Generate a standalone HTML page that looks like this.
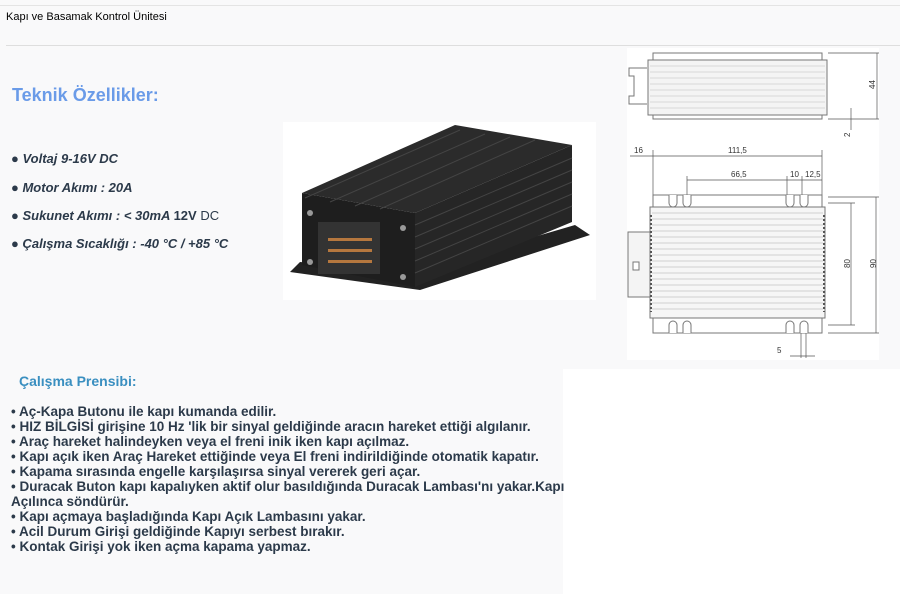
<!DOCTYPE html>
<html><head><meta charset="utf-8"><style>
body{margin:0;width:900px;height:594px;background:#f9f9fa;font-family:"Liberation Sans",Arial,sans-serif;position:relative;overflow:hidden}
.a{position:absolute;white-space:nowrap}
.spec{font-size:13px;color:#2c3a4a;font-style:italic;font-weight:bold}
.li{font-size:13.5px;font-weight:bold;color:#2c3a4a;line-height:15px}
</style></head><body>
<div class="a" style="left:0;top:5px;width:900px;height:1px;background:#e4e4e4"></div>
<div class="a" style="left:6px;top:11px;font-size:11px;color:#000">Kapı ve Basamak Kontrol Ünitesi</div>
<div class="a" style="left:6px;top:45px;width:894px;height:1px;background:#dedede"></div>
<div class="a" style="left:12px;top:85px;font-size:18px;font-weight:bold;color:#6a9be8">Teknik Özellikler:</div>
<div class="a spec" style="left:11px;top:151px">● Voltaj 9-16V DC</div>
<div class="a spec" style="left:11px;top:180px">● Motor Akımı : 20A</div>
<div class="a spec" style="left:11px;top:208px">● Sukunet Akımı : &lt; 30mA <span style="font-style:normal">12V</span> <span style="font-style:normal;font-weight:normal">DC</span></div>
<div class="a spec" style="left:11px;top:236px">● Çalışma Sıcaklığı : -40 °C / +85 °C</div>

<svg class="a" style="left:283px;top:122px" width="313" height="178" viewBox="283 122 313 178">
<rect x="283" y="122" width="313" height="178" fill="#fff"/>
<polygon points="290,272 420,290 590,235 575,225 415,272 300,262" fill="#222"/>
<polygon points="302,193 455,125 572,145 415,213" fill="#2b2b2b"/>
<polygon points="415,213 572,145 572,222 415,287" fill="#262626"/>
<polygon points="302,193 415,213 415,287 302,265" fill="#1e1e1e"/>
<g stroke="#444" stroke-width="1">
<line x1="305" y1="198" x2="460" y2="130"/><line x1="330" y1="202" x2="485" y2="134"/><line x1="355" y1="206" x2="510" y2="137"/><line x1="380" y1="209" x2="535" y2="140"/>
<line x1="415" y1="225" x2="572" y2="158"/><line x1="415" y1="237" x2="572" y2="170"/><line x1="415" y1="249" x2="572" y2="182"/><line x1="415" y1="261" x2="572" y2="194"/><line x1="415" y1="273" x2="572" y2="206"/>
</g>
<rect x="318" y="222" width="62" height="52" fill="#333"/>
<g fill="#b5773e"><rect x="328" y="238" width="44" height="3"/><rect x="328" y="249" width="44" height="3"/><rect x="328" y="260" width="44" height="3"/></g>
<circle cx="310" cy="213" r="3" fill="#999"/><circle cx="310" cy="262" r="3" fill="#999"/><circle cx="403" cy="228" r="3" fill="#999"/><circle cx="403" cy="277" r="3" fill="#999"/>
</svg>

<svg class="a" style="left:627px;top:48px" width="252" height="312" viewBox="627 48 252 312" font-family="Liberation Sans,Arial,sans-serif" font-size="8" fill="#333">
<rect x="627" y="48" width="252" height="312" fill="#fff"/>
<g stroke="#777" fill="none" stroke-width="1">
<rect x="653" y="53" width="169" height="66"/>
<rect x="648" y="60" width="179" height="55" fill="#f4f4f4"/>
<path d="M647 68 H629 V76 H634 V96 H629 V104 H647"/>
</g>
<g stroke="#bbb" stroke-width="0.6">
<line x1="650" y1="66" x2="825" y2="66"/><line x1="650" y1="72" x2="825" y2="72"/><line x1="650" y1="78" x2="825" y2="78"/><line x1="650" y1="84" x2="825" y2="84"/><line x1="650" y1="90" x2="825" y2="90"/><line x1="650" y1="96" x2="825" y2="96"/><line x1="650" y1="102" x2="825" y2="102"/><line x1="650" y1="108" x2="825" y2="108"/>
</g>
<g stroke="#555" stroke-width="0.7">
<line x1="877" y1="53" x2="877" y2="119"/><line x1="828" y1="53" x2="880" y2="53"/><line x1="828" y1="119" x2="880" y2="119"/>
<line x1="851" y1="108" x2="851" y2="130"/>
<line x1="630" y1="156" x2="822" y2="156"/><line x1="653" y1="150" x2="653" y2="195"/><line x1="822" y1="150" x2="822" y2="195"/>
<line x1="687" y1="180" x2="822" y2="180"/><line x1="687" y1="176" x2="687" y2="195"/><line x1="787" y1="176" x2="787" y2="195"/><line x1="802" y1="176" x2="802" y2="195"/>
<line x1="851" y1="203" x2="851" y2="325"/><line x1="828" y1="203" x2="855" y2="203"/><line x1="828" y1="325" x2="855" y2="325"/>
<line x1="876" y1="197" x2="876" y2="333"/><line x1="828" y1="197" x2="879" y2="197"/><line x1="828" y1="333" x2="879" y2="333"/>
<line x1="801" y1="333" x2="801" y2="358"/><line x1="806" y1="333" x2="806" y2="358"/><line x1="790" y1="356" x2="815" y2="356"/>
</g>
<rect x="653" y="195" width="169" height="138" fill="#fff" stroke="#777"/>
<rect x="650" y="207" width="175" height="111" fill="#f6f6f6" stroke="#777"/>
<g stroke="#aaa" stroke-width="0.6">
<line x1="652" y1="213" x2="823" y2="213"/><line x1="652" y1="219" x2="823" y2="219"/><line x1="652" y1="225" x2="823" y2="225"/><line x1="652" y1="231" x2="823" y2="231"/><line x1="652" y1="237" x2="823" y2="237"/><line x1="652" y1="243" x2="823" y2="243"/><line x1="652" y1="249" x2="823" y2="249"/><line x1="652" y1="255" x2="823" y2="255"/><line x1="652" y1="261" x2="823" y2="261"/><line x1="652" y1="267" x2="823" y2="267"/><line x1="652" y1="273" x2="823" y2="273"/><line x1="652" y1="279" x2="823" y2="279"/><line x1="652" y1="285" x2="823" y2="285"/><line x1="652" y1="291" x2="823" y2="291"/><line x1="652" y1="297" x2="823" y2="297"/><line x1="652" y1="303" x2="823" y2="303"/><line x1="652" y1="309" x2="823" y2="309"/>
</g>
<g stroke="#777" fill="#fff">
<path d="M669 195 v8 a4 4 0 0 0 8 0 v-8"/><path d="M683 195 v8 a4 4 0 0 0 8 0 v-8"/><path d="M786 195 v8 a4 4 0 0 0 8 0 v-8"/><path d="M800 195 v8 a4 4 0 0 0 8 0 v-8"/>
<path d="M669 333 v-8 a4 4 0 0 1 8 0 v8"/><path d="M683 333 v-8 a4 4 0 0 1 8 0 v8"/><path d="M786 333 v-8 a4 4 0 0 1 8 0 v8"/><path d="M800 333 v-8 a4 4 0 0 1 8 0 v8"/>
<rect x="628" y="232" width="22" height="65" fill="#f4f4f4"/><rect x="633" y="262" width="6" height="8"/>
</g>
<g stroke="#555" stroke-width="2"><line x1="651" y1="215" x2="651" y2="312" stroke-dasharray="2 2"/><line x1="824" y1="215" x2="824" y2="312" stroke-dasharray="2 2"/></g>
<text x="634" y="153">16</text><text x="728" y="153">111,5</text><text x="731" y="177">66,5</text><text x="790" y="177">10</text><text x="805" y="177">12,5</text><text x="777" y="353">5</text>
<text transform="translate(875,89) rotate(-90)">44</text><text transform="translate(850,137) rotate(-90)">2</text>
<text transform="translate(850,268) rotate(-90)">80</text><text transform="translate(876,268) rotate(-90)">90</text>
</svg>

<div class="a" style="left:563px;top:369px;width:337px;height:225px;background:#fff"></div>
<div class="a" style="left:19px;top:373px;font-size:14px;font-weight:bold;color:#3a8fc0">Çalışma Prensibi:</div>
<div class="a li" style="left:11px;top:404px;white-space:normal;width:560px">
• Aç-Kapa Butonu ile kapı kumanda edilir.<br>
• HIZ BİLGİSİ girişine 10 Hz 'lik bir sinyal geldiğinde aracın hareket ettiği algılanır.<br>
• Araç hareket halindeyken veya el freni inik iken kapı açılmaz.<br>
• Kapı açık iken Araç Hareket ettiğinde veya El freni indirildiğinde otomatik kapatır.<br>
• Kapama sırasında engelle karşılaşırsa sinyal vererek geri açar.<br>
• Duracak Buton kapı kapalıyken aktif olur basıldığında Duracak Lambası'nı yakar.Kapı<br>Açılınca söndürür.<br>
• Kapı açmaya başladığında Kapı Açık Lambasını yakar.<br>
• Acil Durum Girişi geldiğinde Kapıyı serbest bırakır.<br>
• Kontak Girişi yok iken açma kapama yapmaz.
</div>
</body></html>
